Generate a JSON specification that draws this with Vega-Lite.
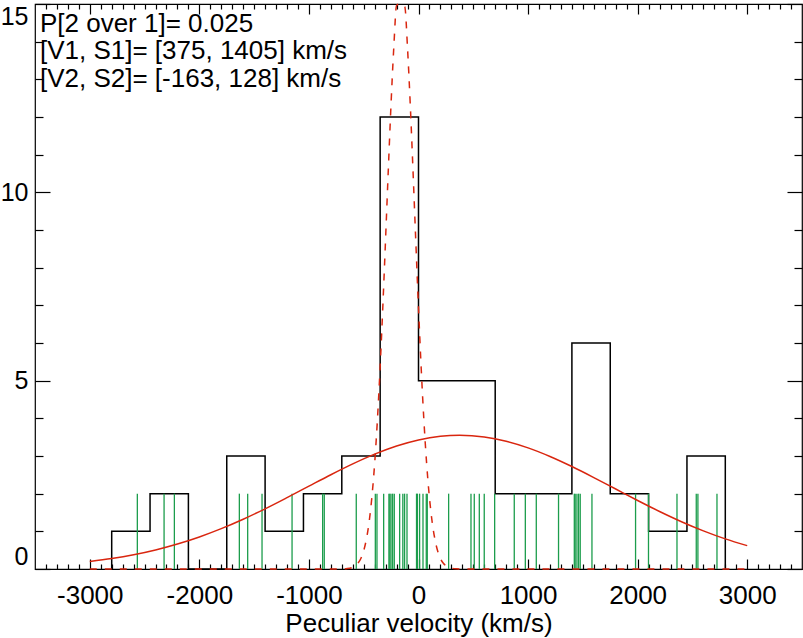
{
  "$schema": "https://vega.github.io/schema/vega-lite/v6.json",
  "width": 767,
  "height": 565,
  "autosize": {"type": "none"},
  "padding": {"left": 35, "top": 4, "right": 1, "bottom": 69},
  "background": "white",
  "config": {
    "view": {"stroke": "#000", "strokeWidth": 1.2},
    "font": "Liberation Sans",
    "axis": {
      "labelFont": "Liberation Sans",
      "titleFont": "Liberation Sans",
      "labelColor": "#000",
      "titleColor": "#000",
      "tickColor": "#000",
      "tickWidth": 1.2,
      "domain": false,
      "grid": false,
      "labelFontSize": 26,
      "titleFontSize": 26,
      "titleFontWeight": "normal"
    }
  },
  "datasets": {
    "hist": [
      {"edge": -2800, "count": 0}, {"edge": -2800, "count": 1}, {"edge": -2450, "count": 2},
      {"edge": -2100, "count": 0}, {"edge": -1750, "count": 3}, {"edge": -1400, "count": 1},
      {"edge": -1050, "count": 2}, {"edge": -700, "count": 3}, {"edge": -350, "count": 12},
      {"edge": 0, "count": 5}, {"edge": 350, "count": 5}, {"edge": 700, "count": 2},
      {"edge": 1050, "count": 2}, {"edge": 1400, "count": 6}, {"edge": 1750, "count": 2},
      {"edge": 2100, "count": 1}, {"edge": 2450, "count": 3}, {"edge": 2800, "count": 0}
    ],
    "rug": [
      {"v": -2566}, {"v": -2322}, {"v": -2228}, {"v": -1635}, {"v": -1559}, {"v": -1428},
      {"v": -1154}, {"v": -875}, {"v": -860}, {"v": -568}, {"v": -394}, {"v": -379},
      {"v": -318}, {"v": -270}, {"v": -262}, {"v": -251}, {"v": -236}, {"v": -221},
      {"v": -172}, {"v": -143}, {"v": -127}, {"v": -105}, {"v": -18}, {"v": -10},
      {"v": 10}, {"v": 41}, {"v": 71}, {"v": 80}, {"v": 275},
      {"v": 479}, {"v": 509}, {"v": 555}, {"v": 600}, {"v": 695},
      {"v": 874}, {"v": 975}, {"v": 1075}, {"v": 1278},
      {"v": 1422}, {"v": 1430}, {"v": 1446}, {"v": 1461}, {"v": 1476}, {"v": 1583},
      {"v": 1981}, {"v": 2099}, {"v": 2359}, {"v": 2535}, {"v": 2550}, {"v": 2724}
    ],
    "g1": [
      {"v": -3000, "y": 0.198}, {"v": -2800, "y": 0.276}, {"v": -2600, "y": 0.377},
      {"v": -2400, "y": 0.505}, {"v": -2200, "y": 0.662}, {"v": -2000, "y": 0.851},
      {"v": -1800, "y": 1.071}, {"v": -1600, "y": 1.322}, {"v": -1400, "y": 1.598},
      {"v": -1200, "y": 1.894}, {"v": -1000, "y": 2.199}, {"v": -800, "y": 2.502},
      {"v": -600, "y": 2.79}, {"v": -400, "y": 3.049}, {"v": -200, "y": 3.265},
      {"v": 0, "y": 3.426}, {"v": 200, "y": 3.523}, {"v": 375, "y": 3.55},
      {"v": 600, "y": 3.505}, {"v": 800, "y": 3.391}, {"v": 1000, "y": 3.216},
      {"v": 1200, "y": 2.988}, {"v": 1400, "y": 2.721}, {"v": 1600, "y": 2.428},
      {"v": 1800, "y": 2.123}, {"v": 2000, "y": 1.819}, {"v": 2200, "y": 1.527},
      {"v": 2400, "y": 1.256}, {"v": 2600, "y": 1.013}, {"v": 2800, "y": 0.8},
      {"v": 3000, "y": 0.62}
    ],
    "g2": [
      {"v": -3000, "y": 0}, {"v": -700, "y": 0.002}, {"v": -650, "y": 0.011},
      {"v": -600, "y": 0.046}, {"v": -575, "y": 0.088}, {"v": -550, "y": 0.162},
      {"v": -525, "y": 0.286}, {"v": -500, "y": 0.487}, {"v": -475, "y": 0.8},
      {"v": -450, "y": 1.263}, {"v": -425, "y": 1.921}, {"v": -400, "y": 2.81},
      {"v": -375, "y": 3.958}, {"v": -350, "y": 5.366}, {"v": -325, "y": 7.003},
      {"v": -300, "y": 8.797}, {"v": -275, "y": 10.638}, {"v": -250, "y": 12.383},
      {"v": -225, "y": 13.873}, {"v": -200, "y": 14.962}, {"v": -175, "y": 15.532},
      {"v": -163, "y": 15.6}, {"v": -150, "y": 15.52}, {"v": -125, "y": 14.927},
      {"v": -100, "y": 13.82}, {"v": -75, "y": 12.317}, {"v": -50, "y": 10.565},
      {"v": -25, "y": 8.724}, {"v": 0, "y": 6.934}, {"v": 25, "y": 5.305},
      {"v": 50, "y": 3.907}, {"v": 75, "y": 2.769}, {"v": 100, "y": 1.89},
      {"v": 125, "y": 1.241}, {"v": 150, "y": 0.785}, {"v": 175, "y": 0.478},
      {"v": 200, "y": 0.28}, {"v": 225, "y": 0.158}, {"v": 250, "y": 0.086},
      {"v": 300, "y": 0.023}, {"v": 350, "y": 0.005}, {"v": 400, "y": 0},
      {"v": 3000, "y": 0}
    ]
  },
  "resolve": {"axis": {"x": "independent", "y": "independent"}},
  "layer": [
    {
      "data": {"name": "hist"},
      "mark": {"type": "line", "interpolate": "step-after", "color": "#000", "strokeWidth": 1.5},
      "encoding": {
        "x": {
          "field": "edge", "type": "quantitative",
          "scale": {"domain": [-3500, 3500], "nice": false, "zero": false},
          "axis": {
            "orient": "bottom", "values": [-3000, -2000, -1000, 0, 1000, 2000, 3000],
            "labelExpr": "'' + datum.value",
            "tickSize": -10, "labelPadding": 23, "labelBaseline": "top",
            "title": "Peculiar velocity (km/s)", "titlePadding": 2
          }
        },
        "y": {
          "field": "count", "type": "quantitative",
          "scale": {"domain": [0, 15], "nice": false, "zero": true, "clamp": true},
          "axis": {
            "orient": "left", "values": [0, 5, 10, 15],
            "labelExpr": "'' + datum.value", "labelFontSize": 25,
            "tickSize": -15, "labelPadding": 22, "labelFlush": true, "title": null
          }
        },
        "order": {"value": null}
      }
    },
    {
      "data": {"name": "rug"},
      "mark": {"type": "rule", "color": "#1c9d4c", "strokeWidth": 1.3},
      "encoding": {
        "x": {
          "field": "v", "type": "quantitative",
          "axis": {
            "orient": "bottom",
            "values": [-3400, -3300, -3200, -3100, -2900, -2800, -2700, -2600, -2500, -2400, -2300, -2200, -2100, -1900, -1800, -1700, -1600, -1500, -1400, -1300, -1200, -1100, -900, -800, -700, -600, -500, -400, -300, -200, -100, 100, 200, 300, 400, 500, 600, 700, 800, 900, 1100, 1200, 1300, 1400, 1500, 1600, 1700, 1800, 1900, 2100, 2200, 2300, 2400, 2500, 2600, 2700, 2800, 2900, 3100, 3200, 3300, 3400],
            "tickSize": -5, "labels": false, "title": null
          }
        },
        "y": {
          "datum": 0, "type": "quantitative",
          "axis": {
            "orient": "left", "values": [1, 2, 3, 4, 6, 7, 8, 9, 11, 12, 13, 14],
            "tickSize": -8, "labels": false, "title": null
          }
        },
        "y2": {"datum": 2}
      }
    },
    {
      "data": {"name": "g1"},
      "mark": {"type": "line", "interpolate": "monotone", "color": "#d9260f", "strokeWidth": 1.5},
      "encoding": {
        "x": {
          "field": "v", "type": "quantitative",
          "axis": {
            "orient": "top", "values": [-3000, -2000, -1000, 0, 1000, 2000, 3000],
            "tickSize": -10, "labels": false, "title": null
          }
        },
        "y": {
          "field": "y", "type": "quantitative",
          "axis": {
            "orient": "right", "values": [0, 5, 10, 15],
            "tickSize": -15, "labels": false, "title": null
          }
        }
      }
    },
    {
      "data": {"name": "g2"},
      "mark": {"type": "line", "interpolate": "monotone", "color": "#d9260f", "strokeWidth": 1.5, "strokeDash": [7, 8]},
      "encoding": {
        "x": {
          "field": "v", "type": "quantitative",
          "axis": {
            "orient": "top",
            "values": [-3400, -3300, -3200, -3100, -2900, -2800, -2700, -2600, -2500, -2400, -2300, -2200, -2100, -1900, -1800, -1700, -1600, -1500, -1400, -1300, -1200, -1100, -900, -800, -700, -600, -500, -400, -300, -200, -100, 100, 200, 300, 400, 500, 600, 700, 800, 900, 1100, 1200, 1300, 1400, 1500, 1600, 1700, 1800, 1900, 2100, 2200, 2300, 2400, 2500, 2600, 2700, 2800, 2900, 3100, 3200, 3300, 3400],
            "tickSize": -5, "labels": false, "title": null
          }
        },
        "y": {
          "field": "y", "type": "quantitative",
          "axis": {
            "orient": "right", "values": [1, 2, 3, 4, 6, 7, 8, 9, 11, 12, 13, 14],
            "tickSize": -8, "labels": false, "title": null
          }
        }
      }
    },
    {
      "data": {"values": [{"label": "P[2 over 1]= 0.025"}]},
      "mark": {"type": "text", "align": "left", "baseline": "alphabetic", "fontSize": 26, "font": "Liberation Sans", "color": "#000"},
      "encoding": {
        "x": {"datum": -3455, "type": "quantitative", "axis": null},
        "y": {"datum": 14.25, "type": "quantitative", "axis": null},
        "text": {"field": "label"}
      }
    },
    {
      "data": {"values": [{"label": "[V1, S1]= [375, 1405] km/s"}]},
      "mark": {"type": "text", "align": "left", "baseline": "alphabetic", "fontSize": 26, "font": "Liberation Sans", "color": "#000"},
      "encoding": {
        "x": {"datum": -3455, "type": "quantitative", "axis": null},
        "y": {"datum": 13.53, "type": "quantitative", "axis": null},
        "text": {"field": "label"}
      }
    },
    {
      "data": {"values": [{"label": "[V2, S2]= [-163, 128] km/s"}]},
      "mark": {"type": "text", "align": "left", "baseline": "alphabetic", "fontSize": 26, "font": "Liberation Sans", "color": "#000"},
      "encoding": {
        "x": {"datum": -3455, "type": "quantitative", "axis": null},
        "y": {"datum": 12.8, "type": "quantitative", "axis": null},
        "text": {"field": "label"}
      }
    }
  ]
}
